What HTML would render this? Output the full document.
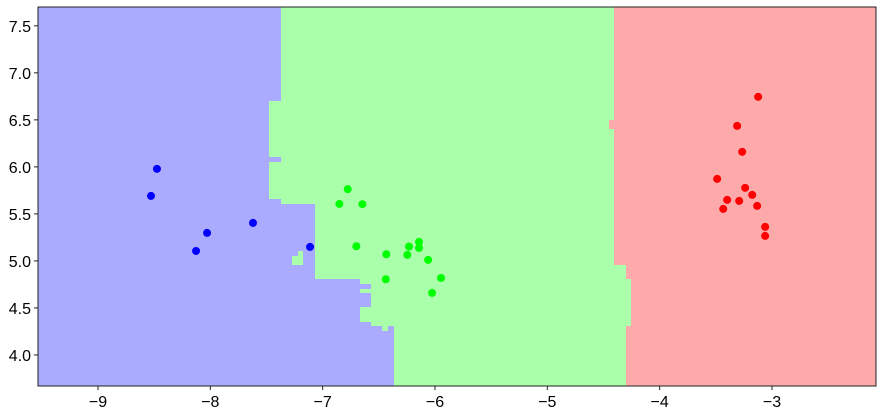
<!DOCTYPE html>
<html><head><meta charset="utf-8"><style>
html,body{margin:0;padding:0;background:#fff;}
svg{display:block;font-family:"Liberation Sans",sans-serif;}
</style></head><body>
<svg id="chart" width="882" height="416" xmlns="http://www.w3.org/2000/svg"></svg>
<script>
const xTicks=[-9,-8,-7,-6,-5,-4,-3];
const yTicks=[4.0,4.5,5.0,5.5,6.0,6.5,7.0,7.5];
const xDomain=[-9.534,-2.074];
const yDomain=[3.67,7.70];
// blue/green boundary bands: [yTop, yBottom, xBoundary]
const blueBands=[[7.70,6.702,-7.370],[6.702,6.106,-7.477],[6.106,6.053,-7.370],[6.053,5.660,-7.477],[5.660,5.606,-7.370],[5.606,4.809,-7.068],[4.809,4.755,-6.667],[4.755,4.702,-6.569],[4.702,4.660,-6.667],[4.660,4.511,-6.569],[4.511,4.351,-6.667],[4.351,4.309,-6.569],[4.309,3.67,-6.364]];
// green/red boundary bands: [yTop, yBottom, xBoundary]
const redBands=[[7.70,4.957,-4.405],[4.957,4.809,-4.298],[4.809,4.309,-4.254],[4.309,3.67,-4.298]];
// patches: [x0,x1,y0,y1]
const greenPatches=[[-6.471,-6.418,4.255,4.309],[-7.219,-7.175,5.053,5.106],[-7.272,-7.175,4.957,5.053]];
const redPatches=[[-4.450,-4.405,6.404,6.500]];
const blueX=[-8.475,-8.528,-8.029,-8.127,-7.620,-7.112];
const blueY=[5.979,5.691,5.298,5.106,5.404,5.149];
const greenX=[-6.777,-6.851,-6.646,-6.700,-6.433,-6.438,-6.231,-6.246,-6.142,-6.142,-6.061,-5.946,-6.026];
const greenY=[5.763,5.606,5.603,5.156,5.071,4.805,5.152,5.064,5.202,5.138,5.011,4.819,4.660];
const redX=[-3.123,-3.310,-3.265,-3.488,-3.239,-3.176,-3.399,-3.292,-3.434,-3.132,-3.061,-3.061];
const redY=[6.745,6.436,6.160,5.872,5.777,5.702,5.649,5.638,5.553,5.585,5.362,5.266];

const L=38,R=876,T=7,B=386;
const sx=v=>L+(v-xDomain[0])/(xDomain[1]-xDomain[0])*(R-L);
const sy=v=>B-(v-yDomain[0])/(yDomain[1]-yDomain[0])*(B-T);
const svg=document.getElementById('chart');
const NS='http://www.w3.org/2000/svg';
function mk(tag,attrs,parent){const e=document.createElementNS(NS,tag);for(const k in attrs)e.setAttribute(k,attrs[k]);(parent||svg).appendChild(e);return e;}
function rectData(x0,x1,y0,y1,fill,name){
  const r=mk('rect',{x:sx(x0),y:sy(y1),width:sx(x1)-sx(x0),height:sy(y0)-sy(y1),fill:fill,'shape-rendering':'crispEdges'});
  
  
}
rectData(xDomain[0],xDomain[1],yDomain[0],yDomain[1],'#AAFFAA','green-region');
blueBands.forEach(b=>rectData(xDomain[0],b[2],b[1],b[0],'#AAAAFF','blue-region'));
redBands.forEach(b=>rectData(b[2],xDomain[1],b[1],b[0],'#FFAAAA','red-region'));
greenPatches.forEach(p=>rectData(p[0],p[1],p[2],p[3],'#AAFFAA','green-region'));
redPatches.forEach(p=>rectData(p[0],p[1],p[2],p[3],'#FFAAAA','red-region'));
function pts(xs,ys,c,name){
  xs.forEach((x,i)=>{
    const p=mk('circle',{cx:sx(x),cy:sy(ys[i]),r:4,fill:c});
    
    
  });
}
pts(blueX,blueY,'#0000FF','blue-point');
pts(greenX,greenY,'#00FF00','green-point');
pts(redX,redY,'#FF0000','red-point');
const fr=mk('rect',{x:L,y:T,width:R-L,height:B-T,fill:'none',stroke:'#222','stroke-width':1});


xTicks.forEach(v=>{
  const x=sx(v);
  mk('line',{x1:x,x2:x,y1:B,y2:B+4,stroke:'#222'});
  const t=mk('text',{x:x,y:B+21,'text-anchor':'middle','font-size':16,fill:'#000'});
  t.textContent=(v<0?'\u2212'+(-v):v);
  
  
});
yTicks.forEach(v=>{
  const y=sy(v);
  mk('line',{x1:L-4,x2:L,y1:y,y2:y,stroke:'#222'});
  const t=mk('text',{x:L-7,y:y+6,'text-anchor':'end','font-size':16,fill:'#000'});
  t.textContent=v.toFixed(1);
  
  
});
</script>
</body></html>
